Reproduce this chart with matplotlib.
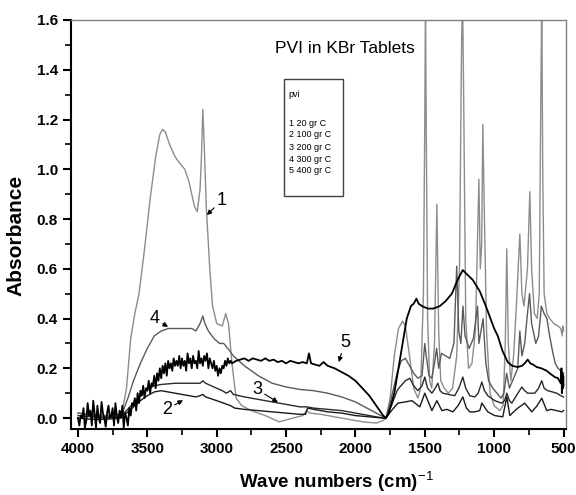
import numpy as np
import matplotlib
matplotlib.use('Agg')
import matplotlib.pyplot as plt

plt.rcParams['font.family'] = ['Liberation Sans', 'DejaVu Sans']
plt.rcParams['mathtext.fontset'] = 'custom'
plt.rcParams['mathtext.rm'] = 'Liberation Sans'
plt.rcParams['mathtext.bf'] = 'Liberation Sans:bold'

# ---- spectra (wavenumber cm-1, absorbance) ----
# 1: 20 gr C
c1_x = [4000, 3900, 3800, 3720, 3680, 3650, 3620, 3590, 3560, 3520, 3480, 3440, 3410, 3390,
        3370, 3340, 3300, 3260, 3230, 3200, 3160, 3140, 3120, 3110, 3100, 3090, 3075, 3050,
        3030, 3000, 2960, 2935, 2915, 2890, 2860, 2820, 2750, 2650, 2550, 2450, 2380, 2350,
        2330, 2250, 2100, 1950, 1850, 1800, 1780,
        1750, 1720, 1690, 1660, 1640, 1610, 1580, 1550, 1530, 1510, 1500, 1495, 1490, 1480,
        1465, 1450, 1430, 1413, 1400, 1385, 1360, 1330, 1300, 1270, 1250, 1235, 1228, 1220,
        1205, 1185, 1160, 1135, 1110, 1100, 1090, 1082, 1070, 1055, 1030, 1000, 960, 935,
        920, 909, 898, 880, 860, 840, 815, 800, 785, 760, 743, 730, 710, 690, 675, 665,
        657, 650, 640, 620, 600, 570, 540, 520, 510, 505, 500]
c1_y = [0.02, 0.015, 0.01, 0.01, 0.03, 0.12, 0.32, 0.42, 0.50, 0.68, 0.88, 1.05, 1.14, 1.16,
        1.15, 1.10, 1.05, 1.02, 1.00, 0.95, 0.85, 0.83, 0.92, 1.05, 1.24, 1.10, 0.85, 0.60,
        0.45, 0.38, 0.37, 0.42, 0.38, 0.22, 0.08, 0.05, 0.03, 0.01, -0.015, 0.0, 0.01, 0.03,
        0.02, 0.015, 0.0, -0.015, -0.02, -0.01, 0.0,
        0.08, 0.25, 0.36, 0.39, 0.37, 0.25, 0.12, 0.08, 0.12, 0.50, 1.20, 1.70, 1.20, 0.40,
        0.15, 0.12, 0.30, 0.86, 0.35, 0.15, 0.12, 0.10, 0.12, 0.25, 0.60, 1.50, 1.70, 1.30,
        0.40, 0.20, 0.22, 0.35, 0.96, 0.60, 0.70, 1.18, 0.80, 0.35, 0.10, 0.05, 0.03, 0.05,
        0.30, 0.68, 0.30, 0.15, 0.25, 0.45, 0.74, 0.50, 0.45, 0.60, 0.91, 0.60, 0.42, 0.40,
        0.50, 1.20, 1.70, 1.00, 0.50, 0.42, 0.40, 0.38, 0.37, 0.36, 0.33, 0.37, 0.35]

# 2: 100 gr C
c2_x = [4000, 3900, 3800, 3700, 3650, 3600, 3550, 3500, 3450, 3400, 3350, 3300, 3250, 3200,
        3150, 3120, 3100, 3080, 3000, 2950, 2900, 2870, 2800, 2700, 2600, 2500, 2400, 2360,
        2345, 2300, 2200, 2100, 2000, 1900, 1800, 1780,
        1740, 1694, 1640, 1593, 1536, 1500, 1449, 1413, 1377, 1340, 1298, 1260, 1226, 1200,
        1176, 1140, 1104, 1089, 1046, 996, 938, 909, 887, 860, 830, 780, 729, 690, 657, 621,
        590, 549, 513, 500]
c2_y = [0.0, -0.005, -0.005, 0.0, 0.02, 0.045, 0.07, 0.09, 0.105, 0.11, 0.105, 0.10, 0.095, 0.09,
        0.085, 0.09, 0.095, 0.085, 0.07, 0.06, 0.05, 0.04, 0.035, 0.03, 0.025, 0.02, 0.015, 0.015,
        0.04, 0.035, 0.025, 0.02, 0.01, 0.005, 0.0, 0.0,
        0.03, 0.06, 0.065, 0.07, 0.045, 0.10, 0.03, 0.07, 0.03, 0.035, 0.025, 0.05, 0.085, 0.04,
        0.025, 0.025, 0.03, 0.06, 0.025, 0.01, 0.005, 0.085, 0.01, 0.025, 0.04, 0.06, 0.025, 0.05,
        0.08, 0.03, 0.035, 0.03, 0.025, 0.03]

# 3: 200 gr C
c3_x = [4000, 3900, 3800, 3700, 3650, 3600, 3550, 3500, 3450, 3400, 3300, 3200, 3120, 3100,
        3080, 3000, 2960, 2930, 2900, 2880, 2800, 2700, 2600, 2500, 2400, 2350, 2300, 2200,
        2100, 2000, 1900, 1800, 1780,
        1740, 1700, 1680, 1640, 1608, 1580, 1550, 1520, 1500, 1480, 1449, 1425, 1406, 1390,
        1370, 1330, 1284, 1255, 1226, 1205, 1176, 1140, 1115, 1089, 1070, 1046, 996, 946,
        925, 909, 890, 873, 840, 801, 780, 758, 730, 707, 680, 657, 640, 614, 580, 549,
        520, 500]
c3_y = [0.01, 0.005, 0.0, 0.005, 0.03, 0.06, 0.09, 0.115, 0.13, 0.135, 0.14, 0.14, 0.14, 0.15,
        0.14, 0.12, 0.11, 0.10, 0.11, 0.095, 0.085, 0.075, 0.065, 0.055, 0.045, 0.045, 0.04, 0.035,
        0.03, 0.02, 0.01, 0.0, 0.0,
        0.05, 0.11, 0.125, 0.15, 0.16, 0.13, 0.11, 0.13, 0.165, 0.12, 0.10, 0.12, 0.14, 0.11,
        0.10, 0.095, 0.09, 0.12, 0.165, 0.12, 0.09, 0.085, 0.10, 0.145, 0.11, 0.09, 0.07, 0.06,
        0.07, 0.10, 0.07, 0.06, 0.09, 0.125, 0.11, 0.10, 0.10, 0.10, 0.12, 0.15, 0.12, 0.11,
        0.105, 0.10, 0.09, 0.085]

# 4: 300 gr C
c4_x = [4000, 3900, 3750, 3680, 3640, 3600, 3550, 3500, 3450, 3400, 3350, 3250, 3180, 3150,
        3120, 3100, 3085, 3060, 3020, 2980, 2950, 2920, 2880, 2800, 2700, 2600, 2500, 2400,
        2300, 2200, 2100, 2000, 1900, 1800, 1780,
        1750, 1700, 1670, 1640, 1610, 1580, 1550, 1520, 1500, 1490, 1470, 1450, 1430, 1415,
        1400, 1380, 1350, 1320, 1290, 1270, 1255, 1240, 1225, 1210, 1180, 1150, 1120, 1110,
        1080, 1060, 1040, 1010, 980, 950, 930, 910, 890, 860, 830, 815, 800, 780, 760, 745,
        730, 700, 680, 660, 640, 620, 600, 580, 560, 540, 520, 500]
c4_y = [0.02, 0.01, 0.005, 0.02, 0.08, 0.15, 0.22, 0.28, 0.33, 0.35, 0.36, 0.36, 0.36, 0.35,
        0.38, 0.41, 0.38, 0.35, 0.32, 0.30, 0.30, 0.28, 0.25, 0.21, 0.17, 0.14, 0.125, 0.115,
        0.11, 0.10, 0.085, 0.065, 0.035, 0.005, 0.0,
        0.06, 0.18, 0.23, 0.24, 0.21, 0.18, 0.16, 0.17, 0.30, 0.25, 0.17, 0.16, 0.22, 0.28,
        0.20, 0.26, 0.25, 0.24, 0.30, 0.61, 0.35, 0.30, 0.45, 0.33, 0.28, 0.32, 0.45, 0.30,
        0.40, 0.22, 0.15, 0.12, 0.10, 0.08, 0.10, 0.18, 0.12, 0.16, 0.20, 0.35, 0.25, 0.30,
        0.42, 0.50, 0.38, 0.30, 0.33, 0.45, 0.42, 0.40, 0.33, 0.27, 0.22, 0.20, 0.19, 0.18]

# 5: 400 gr C (noisy)
c5_x = [4000, 3990, 3980, 3970, 3960, 3950, 3940, 3930, 3920, 3910, 3900, 3890, 3880, 3870,
        3860, 3850, 3840, 3830, 3820, 3810, 3800, 3790, 3780, 3770, 3760, 3750, 3740, 3730,
        3720, 3710, 3700, 3690, 3680, 3670, 3660,
        3650, 3640, 3630, 3620, 3610, 3600, 3590, 3580, 3570, 3560, 3550, 3540, 3530, 3520,
        3510, 3500, 3490, 3480, 3470, 3460, 3450, 3440, 3430, 3420, 3410, 3400, 3390, 3380,
        3370, 3360, 3350, 3340, 3330, 3320, 3310, 3300,
        3290, 3280, 3270, 3260, 3250, 3240, 3230, 3220, 3210, 3200, 3190, 3180, 3170, 3160,
        3150, 3140, 3130, 3120, 3110, 3100, 3090, 3080, 3070, 3060, 3050, 3040, 3030, 3020,
        3010, 3000, 2990, 2980, 2970, 2960, 2950, 2940, 2930, 2920, 2910, 2900,
        2890, 2860, 2830, 2800, 2770, 2740, 2710, 2680, 2650, 2620, 2590, 2560, 2530, 2500,
        2470, 2440, 2410, 2380, 2350, 2335, 2320, 2290, 2260, 2230, 2200,
        2150, 2100, 2050, 2000, 1950, 1900, 1850, 1800, 1780,
        1760, 1720, 1690, 1660, 1630, 1600, 1580, 1560, 1545, 1520, 1478, 1440, 1392, 1350,
        1305, 1260, 1240, 1226, 1200, 1154, 1104, 1060, 1000, 974, 940, 902, 870, 830, 800,
        780, 758, 740, 720, 693, 660, 621, 600, 563, 540, 520, 515, 512, 508, 505, 502, 500]
c5_y = [0.0, -0.03, 0.01, 0.0, 0.04, -0.04, -0.01, 0.06, 0.01, 0.03, -0.03, 0.07, 0.02, -0.04,
        0.05, 0.0, -0.02, 0.065, 0.02, 0.0, -0.035, 0.02, 0.05, 0.0, 0.01, 0.04, -0.03, 0.06,
        0.01, -0.02, 0.03, 0.0, 0.05, -0.04, 0.02,
        0.0, -0.03, 0.04, 0.01, 0.06, 0.05, 0.08, 0.03, 0.10, 0.06, 0.11, 0.09, 0.13, 0.08,
        0.12, 0.11, 0.15, 0.10, 0.14, 0.13, 0.17, 0.12, 0.18, 0.15, 0.20, 0.16, 0.21, 0.18,
        0.22, 0.17, 0.23, 0.20, 0.22, 0.19, 0.24, 0.21,
        0.23, 0.21, 0.25, 0.20, 0.24, 0.21, 0.23, 0.19, 0.26, 0.22, 0.24, 0.20, 0.25, 0.22,
        0.23, 0.20, 0.27, 0.22, 0.24, 0.21, 0.25, 0.23, 0.26, 0.20, 0.24, 0.22, 0.20, 0.23,
        0.19, 0.21, 0.17, 0.20, 0.18, 0.21, 0.20, 0.23, 0.21, 0.24, 0.22, 0.23,
        0.22, 0.23, 0.235, 0.24, 0.23, 0.24, 0.235, 0.23, 0.24, 0.23, 0.235, 0.225, 0.23, 0.22,
        0.23, 0.225, 0.22, 0.225, 0.22, 0.26, 0.22, 0.215, 0.21, 0.225, 0.21,
        0.20, 0.185, 0.17, 0.15, 0.12, 0.09, 0.05, 0.01, 0.0,
        0.02, 0.10, 0.20, 0.30, 0.40, 0.45, 0.46, 0.48, 0.46, 0.45, 0.44, 0.44, 0.45, 0.47,
        0.50, 0.56, 0.58, 0.595, 0.58, 0.555, 0.51, 0.45, 0.36, 0.33, 0.27, 0.225, 0.21, 0.205, 0.21,
        0.22, 0.235, 0.22, 0.215, 0.205, 0.20, 0.19, 0.18, 0.165, 0.16, 0.14, 0.20, 0.10, 0.18, 0.12, 0.17, 0.13]

legend_lines = ['pvi', '', '1 20 gr C', '2 100 gr C', '3 200 gr C', '4 300 gr C', '5 400 gr C']

fig = plt.figure(figsize=(5.76, 4.95), dpi=100)
ax = fig.add_axes([0.1233, 0.1333, 0.8594, 0.8263])

ax.plot(c1_x, c1_y, color='#8c8c8c', lw=1.0)
ax.plot(c4_x, c4_y, color='#5a5a5a', lw=1.0)
ax.plot(c3_x, c3_y, color='#2a2a2a', lw=1.0)
ax.plot(c2_x, c2_y, color='#1a1a1a', lw=1.0)
ax.plot(c5_x, c5_y, color='black', lw=1.3)

ax.set_xlim(4050, 482)
ax.set_ylim(-0.044, 1.6)
ax.set_xticks([4000, 3500, 3000, 2500, 2000, 1500, 1000, 500])
ax.set_xticks(np.arange(500, 4001, 250), minor=True)
ax.set_yticks([0.0, 0.2, 0.4, 0.6, 0.8, 1.0, 1.2, 1.4, 1.6])
ax.set_yticks(np.arange(0.0, 1.61, 0.1), minor=True)
ax.set_yticklabels(['0.0', '0.2', '0.4', '0.6', '0.8', '1.0', '1.2', '1.4', '1.6'])
ax.tick_params(which='major', direction='out', length=6, width=1.5, labelsize=11)
ax.tick_params(which='minor', direction='out', length=4, width=1.2)
for lab in ax.get_xticklabels() + ax.get_yticklabels():
    lab.set_fontweight('bold')

for s in ['left', 'bottom']:
    ax.spines[s].set_linewidth(1.5)
for s in ['top', 'right']:
    ax.spines[s].set_color('#808080')
    ax.spines[s].set_linewidth(1.0)

ax.set_xlabel(r'Wave numbers (cm)$^{-1}$', fontsize=13.5, fontweight='bold')
ax.xaxis.set_label_coords(0.537, -0.098)
ax.set_ylabel('Absorbance', fontsize=15, fontweight='bold')
ax.yaxis.set_label_coords(-0.092, 0.474)

ax.text(2076, 1.487, 'PVI in KBr Tablets', fontsize=12.5, ha='center', va='center')

# legend box
ax.add_patch(plt.Rectangle((0.430, 0.570), 0.119, 0.286, transform=ax.transAxes,
                           fill=False, edgecolor='#404040', lw=1.0))
ly = [0.817, 0.78, 0.748, 0.719, 0.689, 0.660, 0.631]
for t, y in zip(legend_lines, ly):
    ax.text(0.440, y, t, transform=ax.transAxes, fontsize=6.5, va='center', ha='left')

# curve labels with arrows
arw = dict(arrowstyle='-|>', color='black', lw=0.8, mutation_scale=7, shrinkA=0, shrinkB=0)
ax.annotate('1', xy=(3071, 0.816), xytext=(2962, 0.876), fontsize=13, ha='center', va='center', arrowprops=arw)
ax.annotate('4', xy=(3351, 0.366), xytext=(3445, 0.40), fontsize=13, ha='center', va='center', arrowprops=arw)
ax.annotate('3', xy=(2559, 0.064), xytext=(2710, 0.115), fontsize=13, ha='center', va='center', arrowprops=arw)
ax.annotate('2', xy=(3243, 0.072), xytext=(3359, 0.035), fontsize=13, ha='center', va='center', arrowprops=arw)
ax.annotate('5', xy=(2120, 0.225), xytext=(2076, 0.305), fontsize=13, ha='center', va='center', arrowprops=arw)

fig.savefig('out.png', dpi=100)
